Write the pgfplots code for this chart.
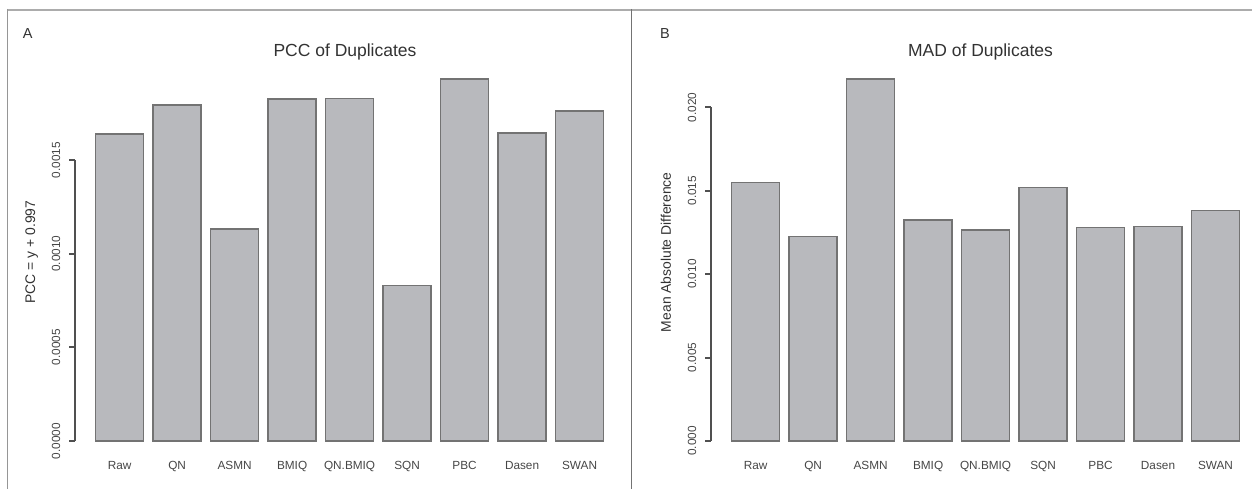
\documentclass[border=0pt]{standalone}
\usepackage{fontspec}
\setmainfont{Liberation Sans}
\usepackage{pgfplots}
\pgfplotsset{compat=1.18}

\definecolor{barfill}{RGB}{184,185,189}
\definecolor{baredge}{RGB}{115,115,115}
\definecolor{axisgray}{RGB}{80,80,80}
\definecolor{textgray}{RGB}{50,50,50}
\definecolor{ticktext}{RGB}{70,70,70}
\definecolor{framegray}{RGB}{172,172,172}
\definecolor{leftgray}{RGB}{150,150,150}
\definecolor{divgray}{RGB}{115,115,115}

% R-style bar panel: no box, y axis line only over the tick range
\pgfplotsset{
  rbar/.style={
    scale only axis, height=391bp,
    xmin=-0.224,
    axis x line*=bottom, axis y line*=left,
    x axis line style={draw=none},
    clip=false,
    scaled y ticks=false,
    tick align=outside, major tick length=6bp,
    xtick={0.7,1.9,3.1,4.3,5.5,6.7,7.9,9.1,10.3},
    xticklabels={Raw,QN,ASMN,BMIQ,QN.BMIQ,SQN,PBC,Dasen,SWAN},
    xtick style={draw=none},
    ytick style={draw=axisgray, line width=2bp},
    xticklabel style={anchor=north, inner sep=0pt,
      font=\fontsize{11.8bp}{14bp}\selectfont, text=ticktext},
    yticklabel style={rotate=90, anchor=south, inner sep=0pt,
      font=\fontsize{11.8bp}{14bp}\selectfont, text=ticktext},
    yticklabel shift=9bp,
    every axis y label/.style={rotate=90, anchor=center,
      font=\fontsize{13.9bp}{16bp}\selectfont, text=textgray},
    every axis title/.style={anchor=base,
      font=\fontsize{17.5bp}{20bp}\selectfont, text=textgray},
    ybar, bar width=1,
  },
  rbars/.style={fill=barfill, draw=baredge, line width=1.4bp},
}

\begin{document}
\begin{tikzpicture}
\useasboundingbox (0,0) rectangle (1252bp,489bp);

% panel frame
\draw[framegray, line width=2bp] (7.3bp,479bp) -- (1252bp,479bp);
\draw[leftgray, line width=1.3bp] (7.3bp,480bp) -- (7.3bp,0bp);
\draw[divgray, line width=1.3bp] (631.8bp,480bp) -- (631.8bp,0bp);

\node[anchor=base west, inner sep=0pt, font=\fontsize{14.5bp}{17bp}\selectfont, text=textgray]
  at (22.7bp,450.7bp) {A};
\node[anchor=base west, inner sep=0pt, font=\fontsize{14.5bp}{17bp}\selectfont, text=textgray]
  at (660bp,450.7bp) {B};

% A: Pearson correlation of duplicate pairs, offset by 0.997
\begin{axis}[rbar,
  at={(75.4bp,33.5bp)}, anchor=south west,
  width=548.4bp, xmax=11.224,
  ymin=-0.0000773, ymax=0.0020097,
  % the line runs from the 0.0000 tick to the 0.0015 tick
  y axis line style={draw=axisgray, line width=2bp, shorten <=14.5bp, shorten >=95.5bp},
  ytick={0,0.0005,0.001,0.0015},
  yticklabels={0.0000,0.0005,0.0010,0.0015},
  ylabel={PCC = y + 0.997},
  every axis y label/.append style={at={(axis description cs:-0.0797,0.52)}},
  title={PCC of Duplicates},
  every axis title/.append style={at={(axis description cs:0.4916,1.0192)}},
]
\addplot[rbars] coordinates {
  (0.7,0.001638) (1.9,0.001793) (3.1,0.001131) (4.3,0.001825) (5.5,0.001829)
  (6.7,0.000830) (7.9,0.001932) (9.1,0.001645) (10.3,0.001761)
};
\end{axis}

% B: mean absolute difference of duplicate pairs
\begin{axis}[rbar,
  at={(711.4bp,33.5bp)}, anchor=south west,
  width=540.6bp, xmax=11.062,
  ymin=-0.000869, ymax=0.022564,
  % the line runs from the 0.000 tick to the 0.020 tick
  y axis line style={draw=axisgray, line width=2bp, shorten <=14.5bp, shorten >=42.8bp},
  ytick={0,0.005,0.01,0.015,0.02},
  yticklabels={0.000,0.005,0.010,0.015,0.020},
  ylabel={Mean Absolute Difference},
  every axis y label/.append style={at={(axis description cs:-0.0842,0.52)}},
  title={MAD of Duplicates},
  every axis title/.append style={at={(axis description cs:0.4978,1.0192)}},
]
\addplot[rbars] coordinates {
  (0.7,0.01549) (1.9,0.01225) (3.1,0.02170) (4.3,0.01325) (5.5,0.01265)
  (6.7,0.01519) (7.9,0.01279) (9.1,0.01287) (10.3,0.01381)
};
\end{axis}
\end{tikzpicture}
\end{document}
